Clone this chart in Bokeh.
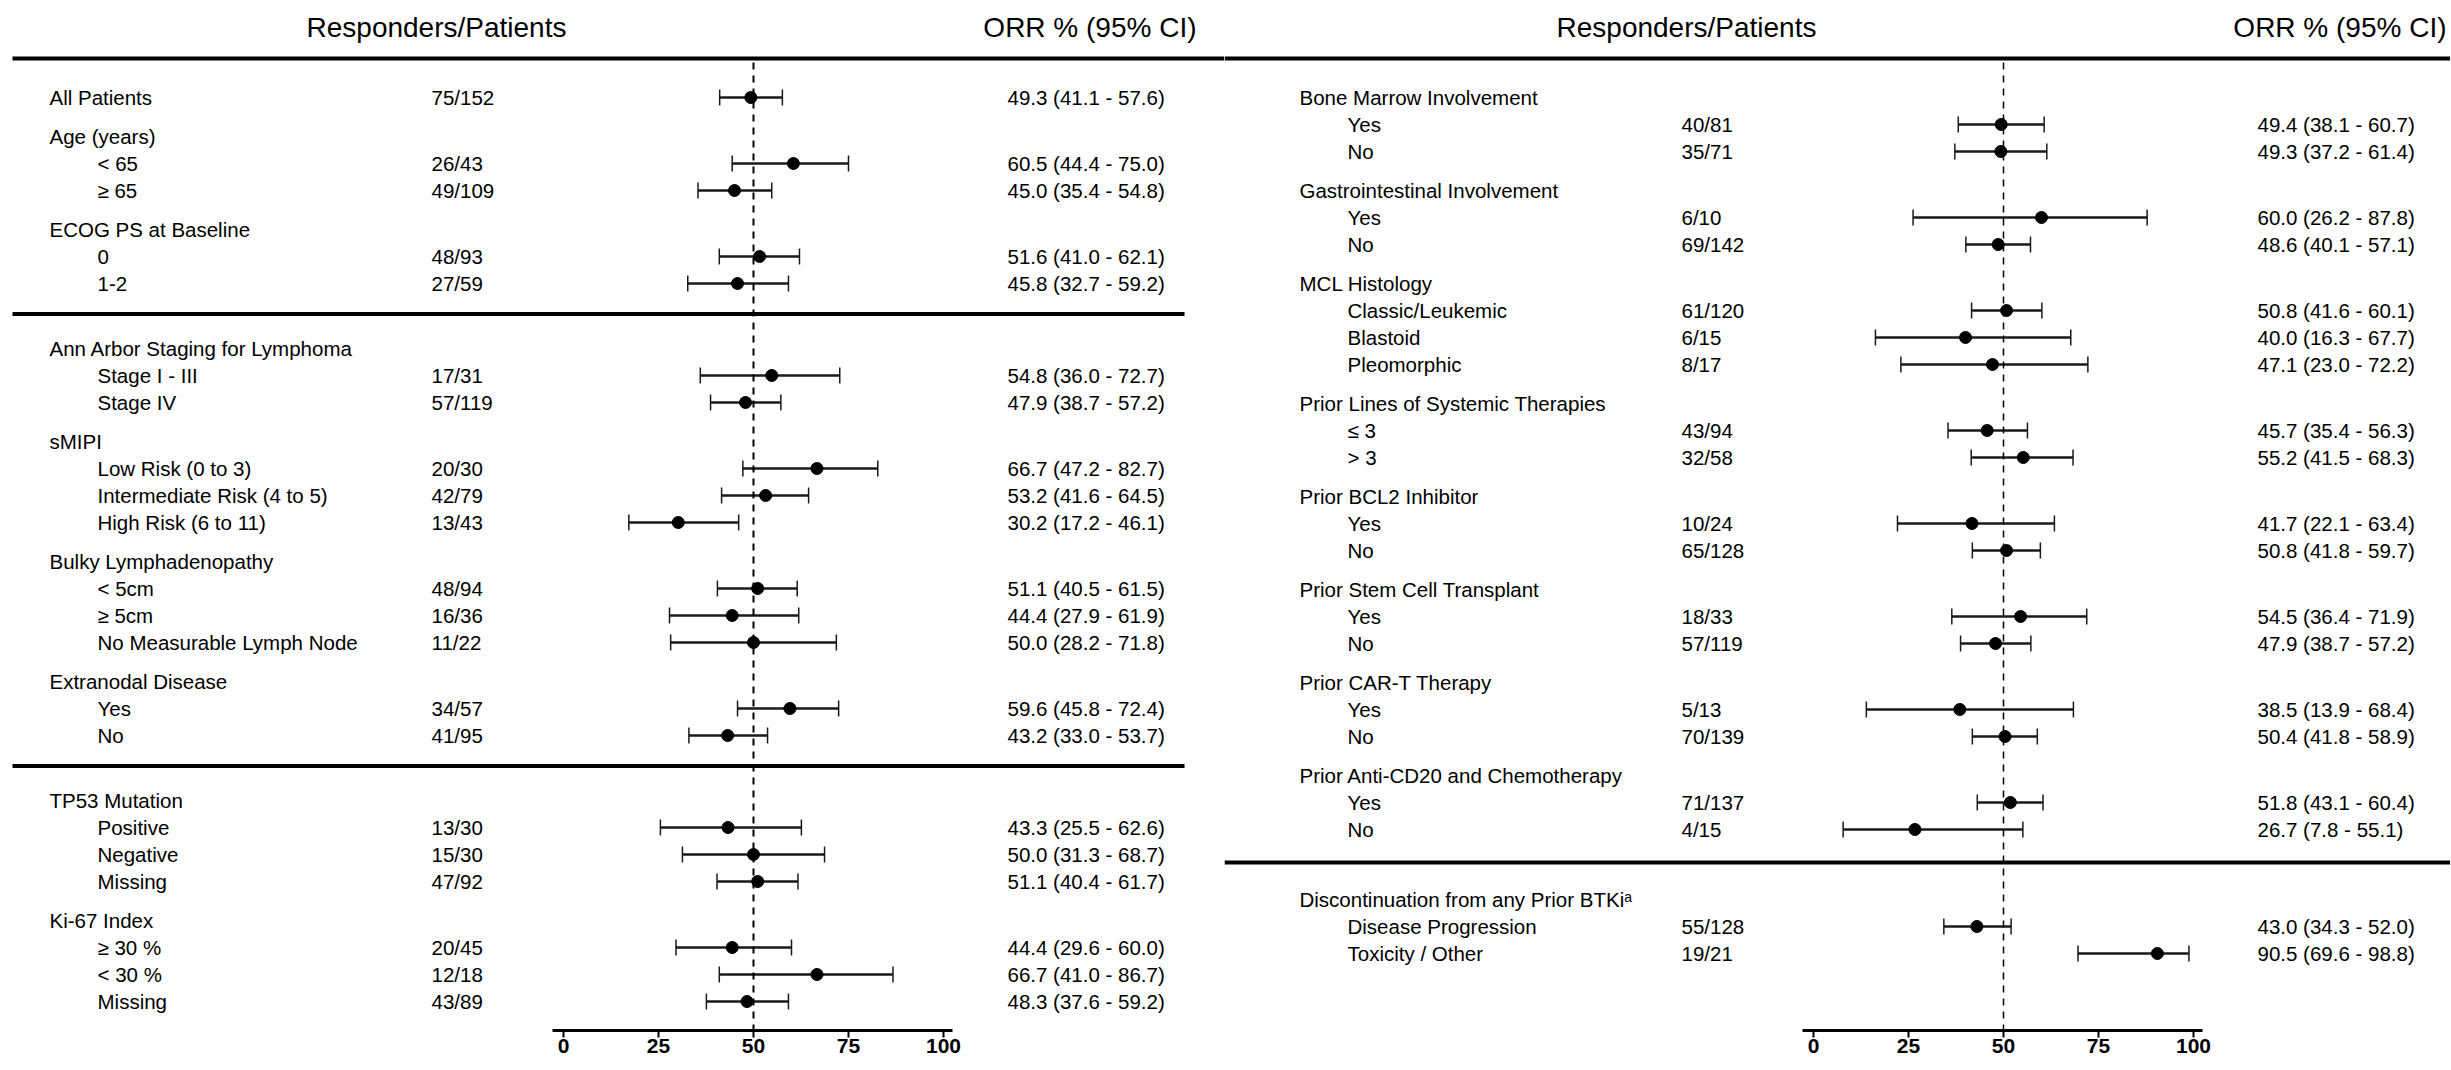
import math
from bokeh.plotting import figure
from bokeh.layouts import row
from bokeh.models import Range1d, LinearAxis, FixedTicker, ColumnDataSource, Whisker, TeeHead
from bokeh.embed import file_html
from bokeh.resources import INLINE
from bokeh.core.properties import value

nan = float("nan")

# ---------------- data: left panel ----------------
left_labels = ["All Patients", "Age (years)", "< 65", "≥ 65", "ECOG PS at Baseline", "0", "1-2",
               "Ann Arbor Staging for Lymphoma", "Stage I - III", "Stage IV",
               "sMIPI", "Low Risk (0 to 3)", "Intermediate Risk (4 to 5)", "High Risk (6 to 11)",
               "Bulky Lymphadenopathy", "< 5cm", "≥ 5cm", "No Measurable Lymph Node",
               "Extranodal Disease", "Yes", "No",
               "TP53 Mutation", "Positive", "Negative", "Missing",
               "Ki-67 Index", "≥ 30 %", "< 30 %", "Missing"]
left_kind = ["top", "head", "sub", "sub", "head", "sub", "sub",
             "head", "sub", "sub",
             "head", "sub", "sub", "sub",
             "head", "sub", "sub", "sub",
             "head", "sub", "sub",
             "head", "sub", "sub", "sub",
             "head", "sub", "sub", "sub"]
left_section = [0, 0, 0, 0, 0, 0, 0,
                1, 1, 1, 1, 1, 1, 1, 1, 1, 1, 1, 1, 1, 1,
                2, 2, 2, 2, 2, 2, 2, 2]
left_resp = ["75/152", "", "26/43", "49/109", "", "48/93", "27/59",
             "", "17/31", "57/119",
             "", "20/30", "42/79", "13/43",
             "", "48/94", "16/36", "11/22",
             "", "34/57", "41/95",
             "", "13/30", "15/30", "47/92",
             "", "20/45", "12/18", "43/89"]
left_orr = [49.3, nan, 60.5, 45.0, nan, 51.6, 45.8,
            nan, 54.8, 47.9,
            nan, 66.7, 53.2, 30.2,
            nan, 51.1, 44.4, 50.0,
            nan, 59.6, 43.2,
            nan, 43.3, 50.0, 51.1,
            nan, 44.4, 66.7, 48.3]
left_lo = [41.1, nan, 44.4, 35.4, nan, 41.0, 32.7,
           nan, 36.0, 38.7,
           nan, 47.2, 41.6, 17.2,
           nan, 40.5, 27.9, 28.2,
           nan, 45.8, 33.0,
           nan, 25.5, 31.3, 40.4,
           nan, 29.6, 41.0, 37.6]
left_hi = [57.6, nan, 75.0, 54.8, nan, 62.1, 59.2,
           nan, 72.7, 57.2,
           nan, 82.7, 64.5, 46.1,
           nan, 61.5, 61.9, 71.8,
           nan, 72.4, 53.7,
           nan, 62.6, 68.7, 61.7,
           nan, 60.0, 86.7, 59.2]

# ---------------- data: right panel ----------------
right_labels = ["Bone Marrow Involvement", "Yes", "No",
                "Gastrointestinal Involvement", "Yes", "No",
                "MCL Histology", "Classic/Leukemic", "Blastoid", "Pleomorphic",
                "Prior Lines of Systemic Therapies", "≤ 3", "> 3",
                "Prior BCL2 Inhibitor", "Yes", "No",
                "Prior Stem Cell Transplant", "Yes", "No",
                "Prior CAR-T Therapy", "Yes", "No",
                "Prior Anti-CD20 and Chemotherapy", "Yes", "No",
                "Discontinuation from any Prior BTKiᵃ", "Disease Progression", "Toxicity / Other"]
right_kind = ["head", "sub", "sub", "head", "sub", "sub", "head", "sub", "sub", "sub",
              "head", "sub", "sub", "head", "sub", "sub", "head", "sub", "sub",
              "head", "sub", "sub", "head", "sub", "sub", "head", "sub", "sub"]
right_section = [0] * 25 + [1, 1, 1]
right_resp = ["", "40/81", "35/71", "", "6/10", "69/142", "", "61/120", "6/15", "8/17",
              "", "43/94", "32/58", "", "10/24", "65/128", "", "18/33", "57/119",
              "", "5/13", "70/139", "", "71/137", "4/15", "", "55/128", "19/21"]
right_orr = [nan, 49.4, 49.3, nan, 60.0, 48.6, nan, 50.8, 40.0, 47.1,
             nan, 45.7, 55.2, nan, 41.7, 50.8, nan, 54.5, 47.9,
             nan, 38.5, 50.4, nan, 51.8, 26.7, nan, 43.0, 90.5]
right_lo = [nan, 38.1, 37.2, nan, 26.2, 40.1, nan, 41.6, 16.3, 23.0,
            nan, 35.4, 41.5, nan, 22.1, 41.8, nan, 36.4, 38.7,
            nan, 13.9, 41.8, nan, 43.1, 7.8, nan, 34.3, 69.6]
right_hi = [nan, 60.7, 61.4, nan, 87.8, 57.1, nan, 60.1, 67.7, 72.2,
            nan, 56.3, 68.3, nan, 63.4, 59.7, nan, 71.9, 57.2,
            nan, 68.4, 58.9, nan, 60.4, 55.1, nan, 52.0, 98.8]

header_resp = "Responders/Patients"
header_orr = "ORR % (95% CI)"
x_ticks = [0, 25, 50, 75, 100]
reference_orr = 50

# ---------------- layout / style ----------------
FONT = "Liberation Sans"
ZERO_PX = 563.0          # panel-relative pixel of ORR = 0
PX_PER_UNIT = 3.8
FRAME_H = 1030
TOP = 0
ROW_STEP, GROUP_GAP = 27.0, 39.0


def px2d(px):
    return (px - ZERO_PX) / PX_PER_UNIT


def layout_rows(kind, section, start, sec_gap):
    ys, y = [], start
    seps = []
    for i in range(len(kind)):
        if i > 0:
            if section[i] != section[i - 1]:
                seps.append(y + sec_gap * 0.47)
                y += sec_gap
            elif kind[i] in ("head", "top"):
                y += GROUP_GAP
            else:
                y += ROW_STEP
        ys.append(y)
    return ys, seps


def make_panel(labels, kind, section, resp, orr, lo, hi, frame_px0, frame_w, sec_gap,
               line_x0_px, line_x1_px, orr_hdr_right, dash_w):
    x0 = px2d(frame_px0)
    x1 = px2d(frame_px0 + frame_w)
    p = figure(frame_width=frame_w, frame_height=FRAME_H, output_backend="svg",
               toolbar_location=None, x_axis_type=None, y_axis_type=None,
               x_range=Range1d(x0, x1), y_range=Range1d(TOP + FRAME_H, TOP),
               min_border=0, outline_line_color=None, background_fill_color="white",
               border_fill_color="white")
    p.xgrid.visible = False
    p.ygrid.visible = False

    ys, seps = layout_rows(kind, section, 97.0, sec_gap)
    top_line_y = ys[0] - GROUP_GAP
    header_y = 27.0

    # horizontal rules
    rule_y = [top_line_y] + seps
    p.segment(x0=[px2d(line_x0_px)] * len(rule_y),
              x1=[x1] + [px2d(line_x1_px)] * len(seps),
              y0=rule_y, y1=rule_y, line_width=4, line_color="black")

    # reference dashed line
    p.segment(x0=[reference_orr], x1=[reference_orr], y0=[top_line_y + 4], y1=[TOP + FRAME_H],
              line_width=dash_w, line_color="black", line_dash="7 6")

    # headers
    p.text(x=[px2d(436)], y=[header_y], text=[header_resp], text_font=value(FONT),
           text_font_size="28px", text_align="center", text_baseline="middle", text_color="black")
    p.text(x=[px2d(orr_hdr_right)], y=[header_y], text=[header_orr], text_font=value(FONT),
           text_font_size="28px", text_align="right", text_baseline="middle", text_color="black")

    # labels
    lx = [px2d(49) if k in ("head", "top") else px2d(97) for k in kind]
    p.text(x=lx, y=ys, text=labels, text_font=value(FONT), text_font_size="20.5px",
           text_align="left", text_baseline="middle", text_color="black")

    idx = [i for i in range(len(kind)) if not math.isnan(orr[i])]
    src = ColumnDataSource(dict(
        y=[ys[i] for i in idx],
        orr=[orr[i] for i in idx],
        lo=[lo[i] for i in idx],
        hi=[hi[i] for i in idx],
        resp=[resp[i] for i in idx],
        ci=[f"{orr[i]:.1f} ({lo[i]:.1f} - {hi[i]:.1f})" for i in idx],
        rx=[px2d(431)] * len(idx),
        cx=[px2d(1007)] * len(idx),
    ))
    p.text(x="rx", y="y", text="resp", source=src, text_font=value(FONT), text_font_size="20.5px",
           text_align="left", text_baseline="middle", text_color="black")
    p.text(x="cx", y="y", text="ci", source=src, text_font=value(FONT), text_font_size="20.5px",
           text_align="left", text_baseline="middle", text_color="black")

    w = Whisker(base="y", lower="lo", upper="hi", dimension="width", source=src,
                line_width=2.5, line_color="#1a1a1a", level="underlay",
                upper_head=TeeHead(size=16, line_width=1.5, line_color="#1a1a1a"),
                lower_head=TeeHead(size=16, line_width=1.5, line_color="#1a1a1a"))
    p.add_layout(w)
    p.scatter(x="orr", y="y", source=src, size=12, fill_color="black", line_color="black")

    ax = LinearAxis(ticker=FixedTicker(ticks=x_ticks), bounds=(px2d(552), px2d(952)),
                    major_label_text_font=FONT, major_label_text_font_size="21px",
                    major_label_text_font_style="bold", major_label_text_color="black",
                    major_tick_in=0, major_tick_out=7, minor_tick_in=0, minor_tick_out=0,
                    axis_line_width=3, axis_line_color="black",
                    major_tick_line_width=2, major_tick_line_color="black",
                    major_label_standoff=1)
    p.add_layout(ax, "below")
    return p


p_left = make_panel(left_labels, left_kind, left_section, left_resp, left_orr, left_lo, left_hi,
                    frame_px0=0, frame_w=1224, sec_gap=65.0,
                    line_x0_px=12, line_x1_px=1184, orr_hdr_right=1196, dash_w=2)
# right panel: same column layout shifted by 1250 px; its frame starts at page x 1224
p_right = make_panel(right_labels, right_kind, right_section, right_resp, right_orr, right_lo, right_hi,
                     frame_px0=1224 - 1250, frame_w=1226, sec_gap=70.0,
                     line_x0_px=-26, line_x1_px=1210, orr_hdr_right=1196, dash_w=1.5)

layout = row(p_left, p_right)
open("out.html", "w").write(file_html(layout, INLINE))
